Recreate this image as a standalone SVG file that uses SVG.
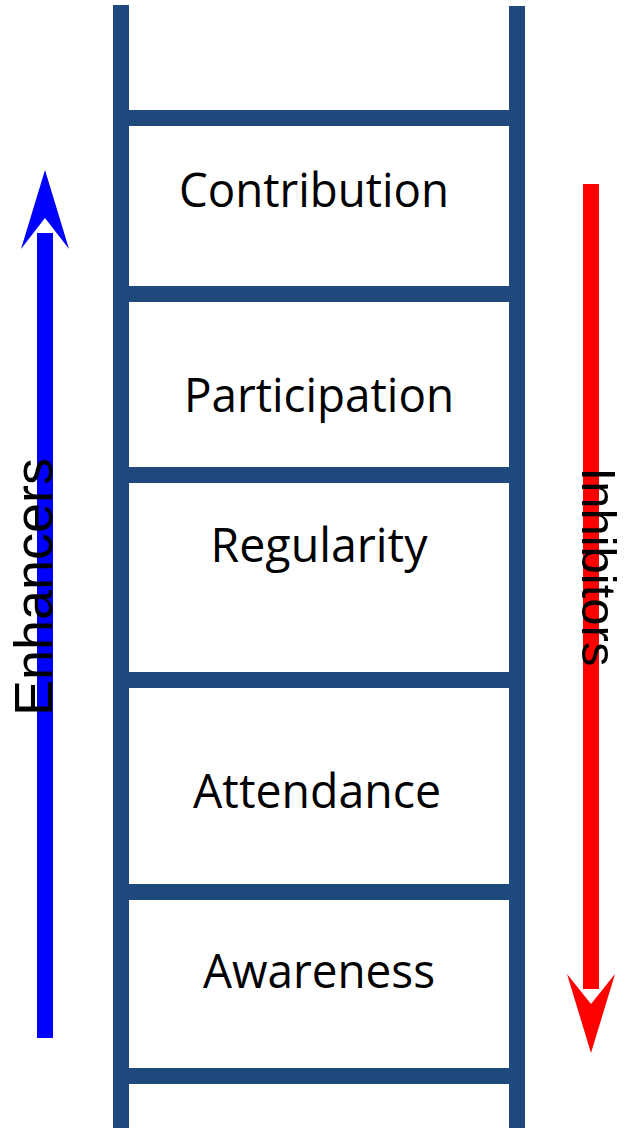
<svg xmlns="http://www.w3.org/2000/svg" width="627" height="1128" viewBox="0 0 627 1128">
  <style>
    .rail { fill: #1F497D; }
    .step { font-family: "Open Sans", "Noto Sans", sans-serif; font-size: 48px; fill: #000; text-anchor: middle; }
    .side { font-family: "Liberation Sans", Arial, sans-serif; fill: #000; text-anchor: middle; }
    .up { fill: #0000FF; }
    .down { fill: #FF0000; }
  </style>
  <rect width="627" height="1128" fill="#FFFFFF"/>

  <!-- ladder frame: two rails and six rungs -->
  <g id="ladder">
    <rect class="rail" x="113" y="5" width="16" height="1123"/>
    <rect class="rail" x="509" y="6" width="16" height="1122"/>
    <rect class="rail" x="129" y="110" width="380" height="16"/>
    <rect class="rail" x="129" y="286" width="380" height="16"/>
    <rect class="rail" x="129" y="467" width="380" height="16"/>
    <rect class="rail" x="129" y="672" width="380" height="16"/>
    <rect class="rail" x="129" y="884" width="380" height="16"/>
    <rect class="rail" x="129" y="1068" width="380" height="16"/>
  </g>

  <!-- steps of the ladder -->
  <g id="contribution"><text class="step" x="314" y="207" textLength="270" lengthAdjust="spacingAndGlyphs">Contribution</text></g>
  <g id="participation"><text class="step" x="319" y="412" textLength="270" lengthAdjust="spacingAndGlyphs">Participation</text></g>
  <g id="regularity"><text class="step" x="319" y="562" textLength="217" lengthAdjust="spacingAndGlyphs">Regularity</text></g>
  <g id="attendance"><text class="step" x="317" y="808" textLength="248" lengthAdjust="spacingAndGlyphs">Attendance</text></g>
  <g id="awareness"><text class="step" x="319" y="988" textLength="232" lengthAdjust="spacingAndGlyphs">Awareness</text></g>

  <!-- side arrows -->
  <g id="connectors">
    <g id="enhancers-arrow">
      <rect class="up" x="37" y="233" width="16" height="805"/>
      <polygon class="up" points="45,170 69,249 45,218 21,249"/>
    </g>
    <g id="inhibitors-arrow">
      <rect class="down" x="583" y="184" width="16" height="805"/>
      <polygon class="down" points="591,1053 615,974 591,1004 567,974"/>
    </g>
  </g>

  <g id="enhancers"><text class="side" font-size="54" transform="translate(52,587) rotate(-90)">Enhancers</text></g>
  <g id="inhibitors"><text class="side" font-size="49" transform="translate(582,567) rotate(90)">Inhibitors</text></g>
</svg>
